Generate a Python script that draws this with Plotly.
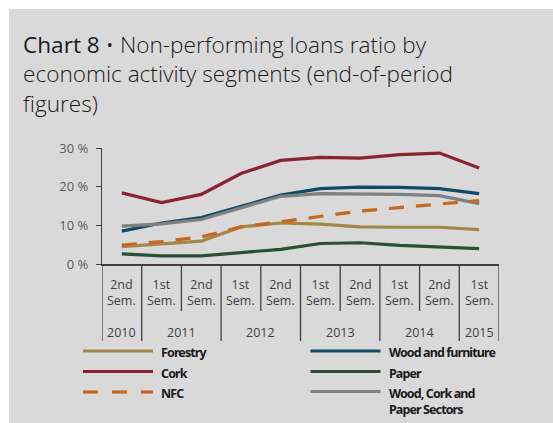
import plotly.graph_objects as go

# ---------------- data ----------------
semesters = ["2nd<br>Sem.", "1st<br>Sem.", "2nd<br>Sem.", "1st<br>Sem.", "2nd<br>Sem.",
             "1st<br>Sem.", "2nd<br>Sem.", "1st<br>Sem.", "2nd<br>Sem.", "1st<br>Sem."]
years = ["2010", "2011", "2011", "2012", "2012", "2013", "2013", "2014", "2014", "2015"]

forestry = [4.5, 5.2, 5.9, 9.6, 10.6, 10.3, 9.6, 9.5, 9.5, 8.9]
cork = [18.4, 15.9, 18.0, 23.4, 26.8, 27.6, 27.4, 28.3, 28.7, 24.8]
nfc = [4.9, 5.8, 7.0, 9.6, 10.9, 12.4, 13.7, 14.6, 15.5, 16.4]
wood_furniture = [8.5, 10.6, 12.0, 14.9, 17.8, 19.5, 19.9, 19.8, 19.5, 18.2]
paper = [2.6, 2.1, 2.1, 2.9, 3.8, 5.3, 5.5, 4.8, 4.5, 4.0]
wcp = [9.8, 10.4, 11.5, 14.6, 17.5, 18.2, 18.2, 18.0, 17.7, 15.6]

y_tick_vals = [0, 10, 20, 30]
y_tick_text = ["0 %", "10 %", "20 %", "30 %"]

title_head = "Chart 8"
title_rest = " • Non-performing loans ratio by<br>economic activity segments (end-of-period<br>figures)"

# ---------------- style ----------------
W, H = 553, 423
ML, MR, MT, MB = 102, 54, 148, 159
PW, PH = W - ML - MR, H - MT - MB
BG = "#d9d9d9"
AXC = "#404040"
TXT = "#595959"
FONT = "Open Sans, DejaVu Sans, sans-serif"
LEGFONT = "Noto Sans, DejaVu Sans, sans-serif"

C_FOR = "#a3874a"
C_CORK = "#8c2331"
C_NFC = "#c8671d"
C_WOOD = "#0f4a66"
C_PAPER = "#2a4f34"
C_WCP = "#808080"


def px_x(p):
    return (p - ML) / PW


def px_y(p):
    return (H - MB - p) / PH


x = list(range(len(semesters)))

series = [
    ("Forestry", forestry, C_FOR, "solid"),
    ("Wood and furniture", wood_furniture, C_WOOD, "solid"),
    ("Cork", cork, C_CORK, "solid"),
    ("Paper", paper, C_PAPER, "solid"),
    ("Wood, Cork and Paper Sectors", wcp, C_WCP, "solid"),
    ("NFC", nfc, C_NFC, "15px,12px"),
]

fig = go.Figure()
for name, vals, col, dash in series:
    fig.add_trace(go.Scatter(x=x, y=vals, mode="lines", name=name,
                             line=dict(color=col, width=3.2, dash=dash),
                             showlegend=False, hoverinfo="skip"))

shapes = []
annotations = []

# white strips (top and left)
shapes.append(dict(type="rect", xref="paper", yref="paper", x0=px_x(0), x1=px_x(W),
                   y0=px_y(0), y1=px_y(9), fillcolor="white", line=dict(width=0), layer="below"))
shapes.append(dict(type="rect", xref="paper", yref="paper", x0=px_x(0), x1=px_x(9),
                   y0=px_y(0), y1=px_y(H), fillcolor="white", line=dict(width=0), layer="below"))

# category axis: boundaries
n = len(semesters)
for i in range(n + 1):
    long = i == 0 or i == n or years[i] != years[i - 1]
    y_end = 341 if long else 311
    shapes.append(dict(type="line", xref="x", yref="paper", x0=i - 0.5, x1=i - 0.5,
                       y0=0, y1=px_y(y_end), line=dict(color=AXC, width=1.3)))

# semester labels
for i, s in enumerate(semesters):
    annotations.append(dict(xref="x", yref="paper", x=i, y=px_y(274), text=s,
                            showarrow=False, yanchor="top", xanchor="center",
                            font=dict(family=FONT, size=12.5, color=AXC)))

# year labels
groups = []
for i, yv in enumerate(years):
    if groups and groups[-1][0] == yv:
        groups[-1][1].append(i)
    else:
        groups.append((yv, [i]))
for yv, idx in groups:
    annotations.append(dict(xref="x", yref="paper", x=sum(idx) / len(idx), y=px_y(332),
                            text=yv, showarrow=False, yanchor="middle", xanchor="center",
                            font=dict(family=FONT, size=12.5, color=AXC)))

# title
annotations.append(dict(xref="paper", yref="paper", x=px_x(21), y=px_y(27),
                        xanchor="left", yanchor="top", align="left", showarrow=False,
                        text="<span style='font-weight:500'>" + title_head + "</span>"
                             + "<span style='font-weight:300'>" + title_rest + "</span>",
                        font=dict(family=FONT, size=22.6, color="#1a1a1a")))

# legend (manual)
legend_items = [
    ("Forestry", C_FOR, "solid", 83, 351),
    ("Cork", C_CORK, "solid", 83, 371.5),
    ("NFC", C_NFC, "dash", 83, 392),
    ("Wood and furniture", C_WOOD, "solid", 310.5, 351),
    ("Paper", C_PAPER, "solid", 310.5, 371.5),
    ("Wood, Cork and<br>Paper Sectors", C_WCP, "solid", 310.5, 391.5),
]
for label, col, dash, lx, ly in legend_items:
    if dash == "solid":
        shapes.append(dict(type="line", xref="paper", yref="paper", x0=px_x(lx), x1=px_x(lx + 70),
                           y0=px_y(ly), y1=px_y(ly), line=dict(color=col, width=3.2)))
    else:
        for seg in range(3):
            sx = lx + seg * 29
            shapes.append(dict(type="line", xref="paper", yref="paper", x0=px_x(sx),
                               x1=px_x(min(sx + 15, lx + 70)), y0=px_y(ly), y1=px_y(ly),
                               line=dict(color=col, width=3.2)))
    styled = "<br>".join("<span style='letter-spacing:-0.9px;font-weight:700'>" + part + "</span>"
                         for part in label.split("<br>"))
    annotations.append(dict(xref="paper", yref="paper", x=px_x(lx + 76), y=px_y(ly - 9),
                            xanchor="left", yanchor="top", align="left", showarrow=False,
                            text=styled,
                            font=dict(family=LEGFONT, size=12.5, color="#1a1a1a")))

fig.update_layout(
    width=W, height=H,
    margin=dict(l=ML, r=MR, t=MT, b=MB, pad=0),
    paper_bgcolor=BG, plot_bgcolor=BG,
    showlegend=False,
    xaxis=dict(range=[-0.5, n - 0.5], showline=True, linecolor=AXC, linewidth=1.5,
               showgrid=False, zeroline=False, showticklabels=False, ticks="", fixedrange=True),
    yaxis=dict(range=[0, 30], showline=True, linecolor=AXC, linewidth=1.3,
               showgrid=False, zeroline=False, tickvals=y_tick_vals, ticktext=y_tick_text,
               ticks="outside", ticklen=5, tickcolor=AXC, tickwidth=1.3, ticklabelstandoff=5,
               tickfont=dict(family=FONT, size=13, color=TXT), fixedrange=True),
    shapes=shapes,
    annotations=annotations,
)

fig.write_html("out.html")
